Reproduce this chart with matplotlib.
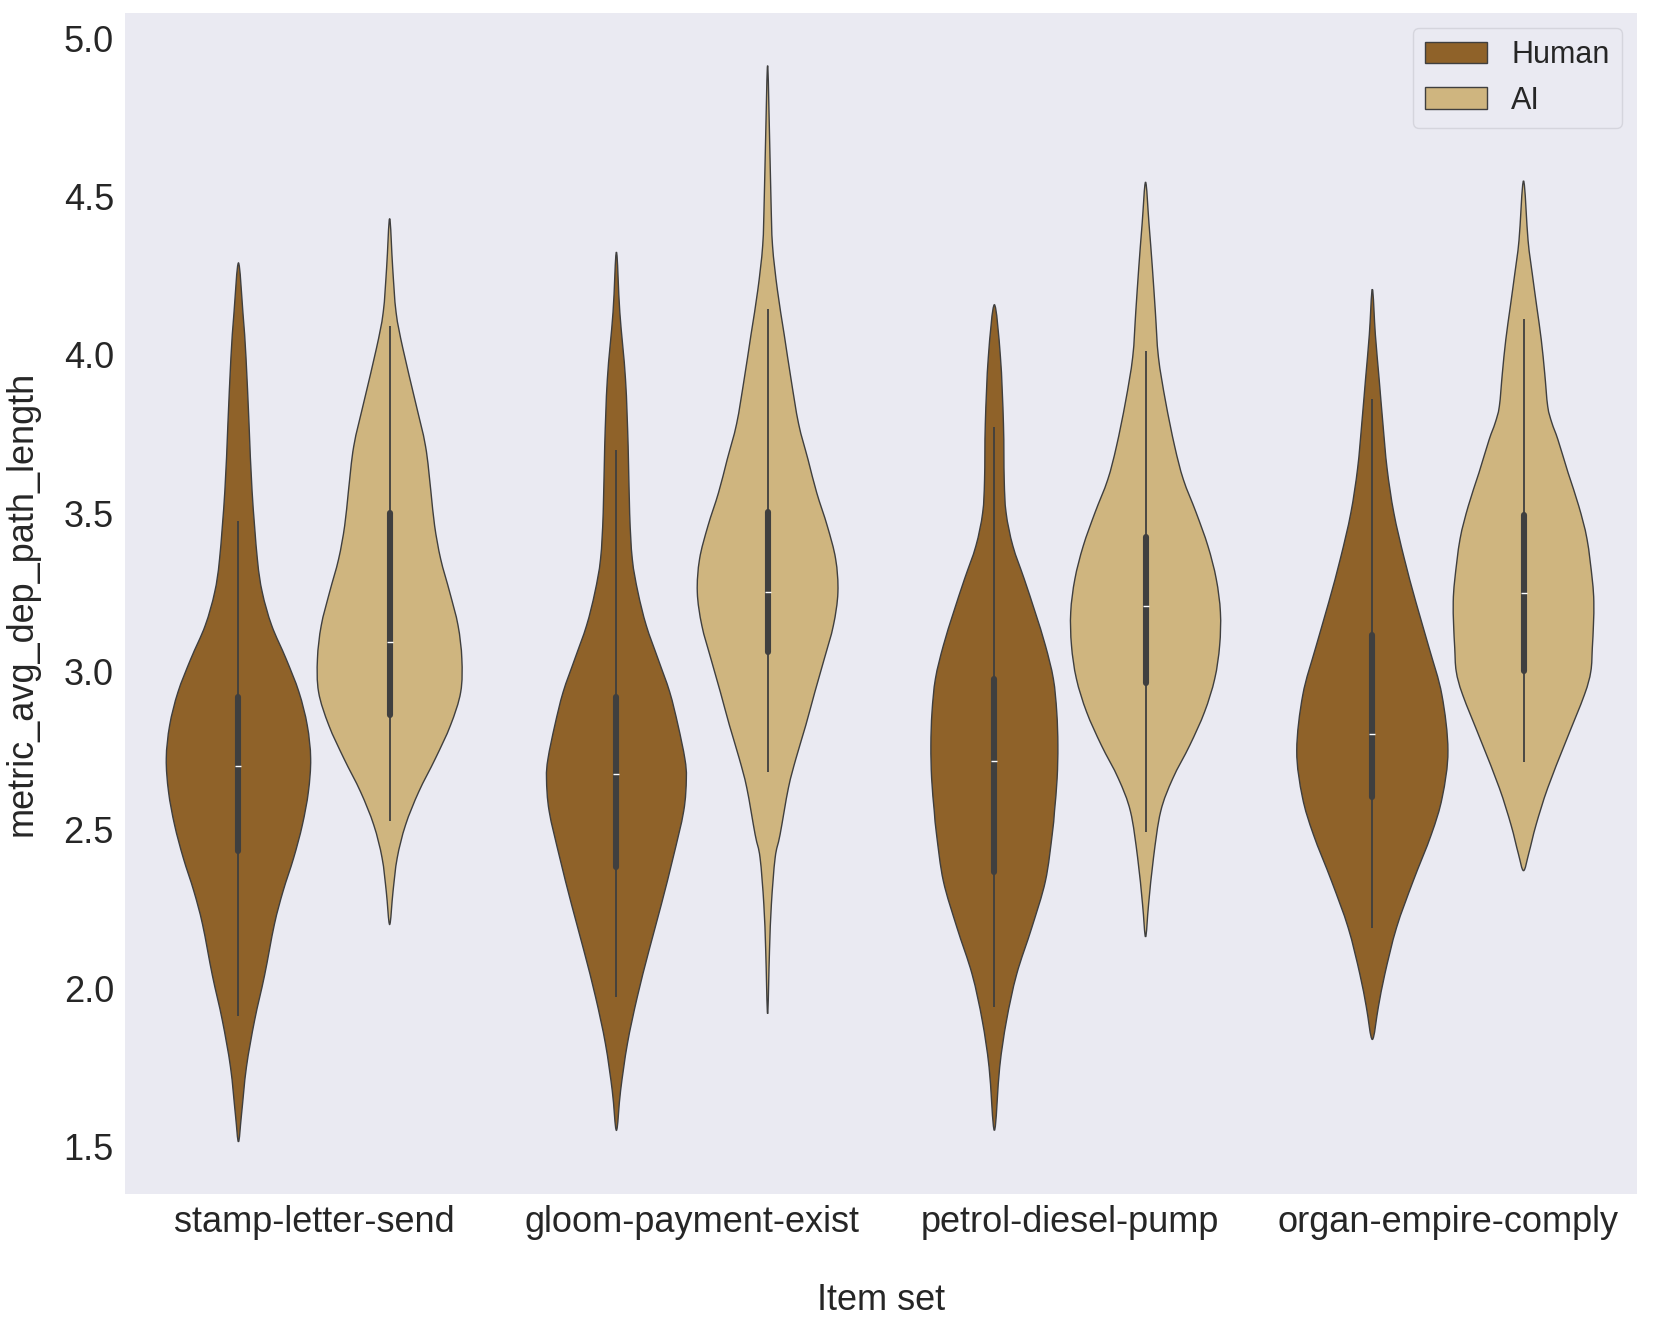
import numpy as np
import matplotlib
matplotlib.use("Agg")
import matplotlib.pyplot as plt
from matplotlib.path import Path
from matplotlib.patches import PathPatch, Patch

plt.rcParams['font.family'] = ['Liberation Sans', 'DejaVu Sans']

# ---------------- data ----------------
categories = ["stamp-letter-send", "gloom-payment-exist", "petrol-diesel-pump", "organ-empire-comply"]
hues = ["Human", "AI"]
colors = {"Human": "#8F6229", "AI": "#CFB57F"}

# violin outlines: value levels and half-widths (density profile)
human_stamp_y = [1.515, 1.60, 1.75, 1.90, 2.04, 2.201, 2.306, 2.411, 2.515, 2.62, 2.725, 2.83, 2.935, 3.04, 3.145, 3.25, 3.355, 3.57, 3.78, 3.99, 4.13, 4.29]
human_stamp_w = [0.0, 0.008, 0.021, 0.043, 0.069, 0.095, 0.118, 0.146, 0.169, 0.185, 0.191, 0.182, 0.160, 0.126, 0.088, 0.063, 0.050, 0.036, 0.028, 0.020, 0.012, 0.0]
ai_stamp_y = [2.201, 2.306, 2.411, 2.515, 2.62, 2.725, 2.83, 2.935, 3.04, 3.145, 3.25, 3.355, 3.46, 3.57, 3.711, 3.852, 4.02, 4.134, 4.275, 4.43]
ai_stamp_w = [0.0, 0.009, 0.020, 0.042, 0.077, 0.121, 0.161, 0.188, 0.191, 0.181, 0.159, 0.135, 0.119, 0.109, 0.095, 0.068, 0.035, 0.017, 0.008, 0.0]

human_gloom_y = [1.551, 1.676, 1.824, 1.971, 2.118, 2.265, 2.412, 2.559, 2.662, 2.725, 2.83, 2.935, 3.04, 3.145, 3.25, 3.355, 3.5, 3.711, 3.923, 4.134, 4.324]
human_gloom_w = [0.0, 0.011, 0.029, 0.055, 0.086, 0.119, 0.150, 0.178, 0.185, 0.181, 0.163, 0.141, 0.110, 0.079, 0.057, 0.042, 0.035, 0.031, 0.024, 0.009, 0.0]
ai_gloom_y = [1.919, 2.118, 2.265, 2.412, 2.485, 2.632, 2.725, 2.83, 2.935, 3.04, 3.145, 3.25, 3.355, 3.459, 3.564, 3.669, 3.782, 3.923, 4.063, 4.204, 4.345, 4.486, 4.697, 4.913]
ai_gloom_w = [0.0, 0.005, 0.010, 0.020, 0.033, 0.055, 0.075, 0.101, 0.125, 0.150, 0.174, 0.186, 0.180, 0.158, 0.130, 0.107, 0.082, 0.062, 0.044, 0.026, 0.013, 0.009, 0.005, 0.0]

human_petrol_y = [1.551, 1.75, 1.897, 2.044, 2.191, 2.338, 2.485, 2.558, 2.662, 2.767, 2.872, 2.977, 3.082, 3.187, 3.292, 3.396, 3.501, 3.606, 3.782, 3.993, 4.158]
human_petrol_w = [0.0, 0.014, 0.032, 0.059, 0.099, 0.135, 0.153, 0.159, 0.166, 0.168, 0.165, 0.156, 0.135, 0.108, 0.079, 0.049, 0.031, 0.026, 0.024, 0.016, 0.0]
ai_petrol_y = [2.162, 2.265, 2.412, 2.558, 2.662, 2.767, 2.872, 2.977, 3.082, 3.187, 3.292, 3.396, 3.501, 3.606, 3.711, 3.852, 3.993, 4.134, 4.275, 4.415, 4.545]
ai_petrol_w = [0.0, 0.008, 0.021, 0.040, 0.072, 0.117, 0.156, 0.183, 0.196, 0.198, 0.187, 0.165, 0.134, 0.100, 0.077, 0.053, 0.034, 0.026, 0.018, 0.009, 0.0]

human_organ_y = [1.838, 1.941, 2.044, 2.191, 2.338, 2.485, 2.603, 2.75, 2.926, 3.075, 3.22, 3.359, 3.5, 3.641, 3.782, 3.923, 4.063, 4.207]
human_organ_w = [0.0, 0.016, 0.033, 0.064, 0.108, 0.156, 0.185, 0.200, 0.184, 0.150, 0.115, 0.084, 0.057, 0.039, 0.028, 0.018, 0.008, 0.0]
ai_organ_y = [2.371, 2.426, 2.515, 2.632, 2.779, 2.926, 3.0, 3.074, 3.148, 3.22, 3.289, 3.418, 3.523, 3.627, 3.732, 3.785, 3.837, 3.942, 4.047, 4.152, 4.257, 4.361, 4.549]
ai_organ_w = [0.0, 0.014, 0.033, 0.064, 0.112, 0.161, 0.178, 0.182, 0.185, 0.186, 0.182, 0.168, 0.146, 0.118, 0.091, 0.075, 0.064, 0.056, 0.047, 0.035, 0.023, 0.012, 0.0]

# inner box statistics per category
human_q1 = [2.434, 2.382, 2.368, 2.603]
human_median = [2.703, 2.676, 2.716, 2.804]
human_q3 = [2.919, 2.919, 2.975, 3.115]
human_whislo = [1.912, 1.971, 1.941, 2.191]
human_whishi = [3.475, 3.700, 3.772, 3.859]
ai_q1 = [2.863, 3.061, 2.963, 3.000]
ai_median = [3.092, 3.251, 3.208, 3.249]
ai_q3 = [3.500, 3.504, 3.423, 3.493]
ai_whislo = [2.529, 2.684, 2.493, 2.713]
ai_whishi = [4.092, 4.144, 4.011, 4.113]

profiles = {
    "Human": [(human_stamp_y, human_stamp_w), (human_gloom_y, human_gloom_w),
              (human_petrol_y, human_petrol_w), (human_organ_y, human_organ_w)],
    "AI": [(ai_stamp_y, ai_stamp_w), (ai_gloom_y, ai_gloom_w),
           (ai_petrol_y, ai_petrol_w), (ai_organ_y, ai_organ_w)],
}
boxes = {
    "Human": (human_q1, human_median, human_q3, human_whislo, human_whishi),
    "AI": (ai_q1, ai_median, ai_q3, ai_whislo, ai_whishi),
}
offsets = {"Human": -0.2, "AI": 0.2}

# ---------------- drawing ----------------
TEXT = "#262626"
LINE = "#3f3f3f"


def violin_path(center, ys, ws):
    ys = list(ys)
    ws = list(ws)
    pts = [(center, ys[0])]
    pts += [(center + w, y) for y, w in zip(ys[1:-1], ws[1:-1])]
    pts += [(center, ys[-1])]
    pts += [(center - w, y) for y, w in zip(ys[-2:0:-1], ws[-2:0:-1])]
    P = np.array(pts)
    n = len(P)
    verts = [tuple(P[0])]
    codes = [Path.MOVETO]
    for i in range(n):
        p0 = P[(i - 1) % n]
        p1 = P[i]
        p2 = P[(i + 1) % n]
        p3 = P[(i + 2) % n]
        c1 = p1 + (p2 - p0) / 6.0
        c2 = p2 - (p3 - p1) / 6.0
        verts += [tuple(c1), tuple(c2), tuple(p2)]
        codes += [Path.CURVE4] * 3
    verts.append(tuple(P[0]))
    codes.append(Path.CLOSEPOLY)
    return Path(verts, codes)


fig = plt.figure(figsize=(16.61, 13.29), dpi=100)
ax = fig.add_axes([0.0753, 0.1016, 0.9102, 0.8888])
ax.set_facecolor("#EAEAF2")
for s in ax.spines.values():
    s.set_visible(False)

for hue in hues:
    q1, med, q3, wlo, whi = boxes[hue]
    for i, (ys, ws) in enumerate(profiles[hue]):
        xc = i + offsets[hue]
        patch = PathPatch(violin_path(xc, ys, ws), facecolor=colors[hue],
                          edgecolor=LINE, lw=1.0, zorder=2)
        ax.add_patch(patch)
        ax.plot([xc, xc], [wlo[i], whi[i]], color=LINE, lw=1.3,
                solid_capstyle="butt", zorder=3)
        ax.plot([xc, xc], [q1[i], q3[i]], color=LINE, lw=4.4,
                solid_capstyle="round", zorder=4)
        ax.plot([xc], [med[i]], marker="_", ms=4.4, mew=1.0, color="white",
                zorder=5)

ax.set_xlim(-0.5, len(categories) - 0.5)
ax.set_ylim(1.35, 5.08)
ax.set_xticks(range(len(categories)))
ax.set_xticklabels(categories)
ax.set_yticks([1.5, 2.0, 2.5, 3.0, 3.5, 4.0, 4.5, 5.0])
ax.set_yticklabels(["1.5", "2.0", "2.5", "3.0", "3.5", "4.0", "4.5", "5.0"])
ax.tick_params(axis="both", length=0, pad=8, labelsize=26, colors=TEXT)
ax.set_xlabel("Item set", fontsize=26, color=TEXT, labelpad=31)
ax.set_ylabel("metric_avg_dep_path_length", fontsize=26, color=TEXT, labelpad=17)

handles = [Patch(facecolor=colors[h], edgecolor=LINE, lw=1.0, label=h) for h in hues]
leg = ax.legend(handles=handles, loc="upper right", fontsize=22, frameon=True,
                fancybox=True, framealpha=0.8, facecolor="#EAEAF2",
                edgecolor="#D0D0D8")
for t in leg.get_texts():
    t.set_color(TEXT)

fig.savefig("out.png", dpi=100)
